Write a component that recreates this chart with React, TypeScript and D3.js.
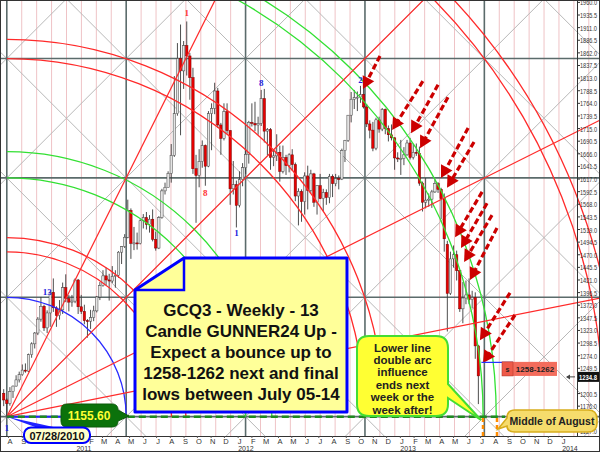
import React from "react";
import * as d3 from "d3";

// ---------- DATA ----------
const FIRST_CANDLE = "2010-07-21"; // weekly candles, one per week from here
const opens = [
  1201,1188,1181,1204,1215,1227,1237,1246,1244,1276,
  1297,1318,1345,1370,1328,1357,1397,1367,1352,1363,
  1406,1385,1378,1380,1421,1369,1360,1342,1341,1348,
  1361,1388,1410,1429,1421,1419,1428,1430,1475,1486,
  1504,1556,1492,1493,1492,1536,1542,1529,1539,1500,
  1483,1542,1594,1601,1628,1663,1744,1851,1827,1876,
  1856,1814,1637,1624,1651,1682,1642,1744,1754,1788,
  1722,1696,1748,1711,1598,1606,1566,1616,1639,1665,
  1727,1725,1722,1725,1773,1710,1713,1659,1662,1669,
  1632,1659,1643,1664,1645,1584,1593,1573,1623,1595,
  1627,1572,1604,1579,1591,1581,1622,1608,1618,1617,
  1672,1692,1741,1772,1775,1776,1781,1757,1724,1712,
  1677,1732,1714,1752,1715,1703,1697,1658,1656,1657,
  1664,1687,1659,1669,1667,1609,1572,1576,1578,1592,
  1608,1597,1579,1490,1395,1462,1470,1439,1365,1386,
  1392,1383,1387,1293,
];
const highs = [
  1209,1191,1213,1216,1236,1243,1257,1259,1278,1300,
  1320,1349,1388,1373,1362,1398,1424,1370,1382,1416,
  1432,1392,1392,1424,1423,1392,1373,1345,1363,1371,
  1390,1417,1440,1445,1433,1448,1440,1477,1487,1510,
  1577,1560,1524,1513,1539,1549,1553,1547,1558,1515,
  1545,1598,1610,1632,1685,1817,1881,1917,1885,1923,
  1862,1833,1664,1675,1692,1684,1749,1764,1804,1794,
  1726,1764,1764,1712,1652,1614,1632,1648,1675,1730,
  1764,1767,1738,1790,1792,1716,1716,1673,1704,1682,
  1682,1664,1667,1675,1649,1599,1597,1630,1643,1635,
  1629,1605,1627,1598,1597,1627,1626,1627,1624,1676,
  1693,1741,1786,1790,1787,1798,1795,1763,1731,1728,
  1736,1738,1755,1754,1721,1723,1698,1669,1693,1679,
  1693,1697,1685,1686,1680,1612,1619,1589,1596,1616,
  1611,1600,1589,1497,1476,1488,1478,1440,1417,1420,
  1424,1400,1397,1295,
];
const lows = [
  1176,1155.6,1177,1192,1214,1222,1235,1241,1242,1270,
  1288,1314,1340,1322,1318,1330,1359,1330,1344,1355,
  1378,1360,1369,1376,1355,1355,1335,1309,1326,1341,
  1358,1382,1408,1411,1381,1415,1406,1425,1452,1483,
  1502,1462,1479,1480,1490,1521,1519,1513,1496,1478,
  1481,1540,1587,1601,1610,1660,1740,1702,1792,1818,
  1771,1627,1532,1601,1639,1604,1640,1673,1743,1716,
  1664,1692,1705,1567,1587,1523,1562,1603,1627,1647,
  1719,1710,1703,1720,1688,1663,1635,1642,1652,1612,
  1628,1625,1630,1633,1574,1527,1534,1548,1558,1590,
  1563,1548,1578,1555,1567,1570,1582,1603,1597,1615,
  1650,1689,1727,1753,1749,1765,1754,1718,1696,1671,
  1673,1707,1710,1704,1690,1692,1635,1650,1625,1644,
  1662,1655,1655,1662,1604,1554,1560,1563,1561,1590,
  1590,1539,1476,1321,1392,1445,1420,1359,1337,1374,
  1374,1366,1268,1180,
];
const closes = [
  1188,1181,1204,1215,1227,1237,1246,1244,1276,1297,
  1318,1345,1370,1328,1357,1397,1367,1352,1363,1406,
  1385,1378,1380,1421,1369,1360,1342,1341,1348,1361,
  1388,1410,1429,1421,1419,1428,1430,1475,1486,1504,
  1556,1492,1493,1492,1536,1542,1529,1539,1500,1483,
  1542,1594,1601,1628,1663,1744,1851,1827,1876,1856,
  1814,1637,1624,1651,1682,1642,1744,1754,1788,1722,
  1696,1748,1711,1598,1606,1566,1616,1639,1665,1727,
  1725,1722,1725,1773,1710,1713,1659,1662,1669,1632,
  1659,1643,1664,1645,1584,1593,1573,1623,1595,1627,
  1572,1604,1579,1591,1581,1622,1608,1618,1617,1672,
  1692,1741,1772,1775,1776,1781,1757,1724,1712,1677,
  1732,1714,1752,1715,1703,1697,1658,1656,1657,1664,
  1687,1659,1669,1667,1609,1572,1576,1578,1592,1608,
  1597,1579,1501,1395,1462,1470,1439,1365,1386,1392,
  1383,1387,1293,1234.8,
];

const priceTicks = [
  1960.0,1935.5,1911.0,1886.5,1862.0,1837.5,1813.0,1788.5,1764.0,1739.5,
  1715.0,1690.5,1666.0,1641.5,1617.0,1592.5,1568.0,1543.5,1519.0,1494.5,
  1470.0,1445.5,1421.0,1396.5,1372.0,1347.5,1323.0,1298.5,1274.0,1249.5,
  1225.0,1200.5,1176.0,1151.5,1127.0,
];
const lastPrice = 1234.8;

// Gann square setup
const GANN_ORIGIN_DATE = "2010-07-28";
const GANN_ORIGIN_PRICE = 1155.6;
const GANN_SQUARE_PRICE = 231.8;
const GANN_SQUARE_DAYS = 269.4;
const arcSquares = [1, 1.38, 1.5, 2, 2.22, 3, 3.16, 3.99, 4.1, 5, 5.12];
const arcColors = ["#2a2aff","#ff2a2a","#ff2a2a","#33e033","#33e033","#ff2a2a","#ff2a2a","#33e033","#33e033","#ff2a2a","#ff2a2a"];
const fanRatios = [2, 1, 0.5, 0.2];

// candle markers
const markerIndex = [59, 65, 83, 75, 14, 115, 1];
const markerText = ["1", "8", "8", "1", "13", "2", "1"];
const markerColor = ["#ff3333", "#ff3333", "#2222dd", "#2222dd", "#2222dd", "#2222dd", "#2222dd"];
const markerPrice = [1939, 1590, 1803, 1512, 1398, 1809, 1134];

// red dashed arrows (weeks after Gann origin, price)
const arrowTailWeek = [120.3,134.1,139.0,142.2,148.7,150.6,153.2,154.8,156.4,158.0,162.2,163.8];
const arrowTailPrice = [1856,1807,1800,1776,1716,1689,1592,1570,1547,1522,1396,1353];
const arrowHeadWeek = [114.8,124.2,130.3,133.2,139.95,141.9,144.5,146.4,147.4,149.3,152.5,153.5];
const arrowHeadPrice = [1792,1712,1706,1677,1619,1600,1504,1483,1456,1421,1304,1260];

const targetLow = 1258;
const targetHigh = 1262;

const mainText = [
  "GCQ3 - Weekly - 13",
  "Candle GUNNER24 Up -",
  "Expect a bounce up to",
  "1258-1262 next and final",
  "lows between July 05-14",
];
const bubbleText = ["Lower line", "double arc", "influence", "ends next", "week or the", "week after!"];

const SANS = "'Liberation Sans', Arial, Helvetica, sans-serif";
const SERIF = "'Liberation Serif', 'DejaVu Serif', serif";

export default function App() {
  const W = 600, H = 452;
  const PB = 436; // plot bottom
  const parse = d3.timeParse("%Y-%m-%d");
  const origin = parse(GANN_ORIGIN_DATE) as Date;
  const x = d3.scaleTime()
    .domain([origin, d3.timeDay.offset(origin, 1000)])
    .range([6.8, 6.8 + 443.2]);
  const y = d3.scaleLinear().domain([1960, 1127]).range([2.4, 431.4]);
  const ox = x(origin);
  const oy = y(GANN_ORIGIN_PRICE);
  const sq = oy - y(GANN_ORIGIN_PRICE + GANN_SQUARE_PRICE);
  const sqX = x(d3.timeHour.offset(origin, GANN_SQUARE_DAYS * 24)) - ox;

  const first = parse(FIRST_CANDLE) as Date;
  const candleDates = opens.map((_, i) => d3.timeDay.offset(first, 7 * i));
  const weekDate = (w: number) => new Date(origin.getTime() + w * 7 * 864e5);

  // grid
  const pinkLines: number[] = [];
  for (let k = 1; ox + (k * sqX) / 8 < W; k++) if (k % 8 !== 0) pinkLines.push(ox + (k * sqX) / 8);
  const darkV: number[] = [];
  for (let k = 0; ox + k * sqX < W; k++) darkV.push(ox + k * sqX);
  const darkH: number[] = [];
  for (let k = 0; oy - k * sq > 0; k++) darkH.push(oy - k * sq);
  const diag: string[] = [];
  for (let k = -8; k < 12; k++) {
    const c = ox - oy + k * sq; // x - y = c
    diag.push(`M${c},0L${c + PB},${PB}`);
    const s = ox + oy + k * sq; // x + y = s
    diag.push(`M${s},0L${s - PB},${PB}`);
  }

  const months = d3.timeMonth
    .range(new Date(2010, 7, 1), new Date(2014, 0, 2))
    .filter((m) => x(m) < 24 || x(m) > 90); // labels hidden by the date callout are not drawn
  const years = d3.timeYear.range(new Date(2011, 0, 1), new Date(2014, 0, 2));
  const monthFmt = d3.timeFormat("%b");
  const lastY = y(lastPrice);
  const shownTicks = priceTicks.filter((p) => Math.abs(y(p) - (lastY + 1)) > 6);

  const arrows = arrowTailWeek.map((_, i) => {
    const tx = x(weekDate(arrowTailWeek[i])), ty = y(arrowTailPrice[i]);
    const hx = x(weekDate(arrowHeadWeek[i])), hy = y(arrowHeadPrice[i]);
    const len = Math.hypot(hx - tx, hy - ty);
    const ux = (hx - tx) / len, uy = (hy - ty) / len;
    const hl = 12, hw = 6.5;
    const bx = hx - ux * hl, by = hy - uy * hl;
    return {
      line: `M${tx},${ty}L${bx + ux},${by + uy}`,
      head: `M${hx},${hy}L${bx - uy * hw},${by + ux * hw}L${bx + uy * hw},${by - ux * hw}Z`,
    };
  });

  const lastX = x(candleDates[candleDates.length - 1]);

  return (
    <svg width={W} height={H} style={{ position: "fixed", left: 0, top: 0, background: "#fff" }}
      fontFamily={SANS}>
      <defs>
        <clipPath id="plot"><rect x={0} y={0} width={W} height={PB} /></clipPath>
        <clipPath id="quad"><rect x={ox} y={0} width={W - ox} height={PB} /></clipPath>
      </defs>
      <rect x={0} y={0} width={W} height={H} fill="#fff" />
      <g clipPath="url(#plot)">
        {pinkLines.map((px, i) => (
          <line key={"p" + i} x1={px} x2={px} y1={0} y2={PB} stroke="#efc3c6" strokeWidth={1} />
        ))}
        {diag.map((d, i) => <path key={"d" + i} d={d} stroke="#b8b8b8" strokeWidth={1} fill="none" />)}
        {darkV.map((px, i) => (
          <line key={"v" + i} x1={px} x2={px} y1={0} y2={PB} stroke="#5b6b6b" strokeWidth={1.6} />
        ))}
        {darkH.map((py, i) => (
          <line key={"h" + i} x1={0} x2={W} y1={py} y2={py} stroke="#5b6b6b" strokeWidth={1.6} />
        ))}
      </g>

      {/* candles */}
      <g>
        {opens.map((o, i) => {
          const cx = x(candleDates[i]);
          const c = closes[i];
          const up = c >= o;
          const top = y(Math.max(o, c));
          const h = Math.max(1, Math.abs(y(o) - y(c)));
          return (
            <g key={"c" + i}>
              <line x1={cx} x2={cx} y1={y(highs[i])} y2={y(lows[i])} stroke="#3a3a3a" strokeWidth={0.9} />
              <rect x={cx - 1.2} y={top} width={2.4} height={h}
                fill={up ? "#e4e4e4" : "#e80000"} stroke={up ? "#444" : "#7a0000"} strokeWidth={0.5} />
            </g>
          );
        })}
      </g>

      {/* Gann arcs and fan */}
      <g clipPath="url(#quad)" fill="none">
        {arcSquares.map((s, i) => {
          const r = s * sq;
          return (
            <path key={"a" + i} d={`M${ox},${oy - r}A${r},${r} 0 0 1 ${ox + r},${oy}`}
              stroke={arcColors[i]} strokeWidth={1.3} />
          );
        })}
        {fanRatios.map((r, i) => (
          <path key={"f" + i} d={`M${ox},${oy}L${ox + 900},${oy - 900 * r}`} stroke="#ff2a2a" strokeWidth={1.2} />
        ))}
      </g>

      {/* candle markers */}
      {markerIndex.map((idx, i) => (
        <text key={"m" + i} x={x(candleDates[idx])} y={y(markerPrice[i]) + 3} textAnchor="middle"
          fontFamily={SERIF} fontSize={9} fontWeight="bold" fill={markerColor[i]}>{markerText[i]}</text>
      ))}

      {/* right axis */}
      <line x1={577.5} x2={577.5} y1={0} y2={PB} stroke="#333" strokeWidth={1} />
      {priceTicks.map((p, i) => (
        <line key={"tk" + i} x1={577} x2={580} y1={y(p)} y2={y(p)} stroke="#333" />
      ))}
      {shownTicks.map((p, i) => (
        <text key={"t" + i} x={580} y={y(p) + 3} fontSize={7.8} fill="#333"
          textLength={17} lengthAdjust="spacingAndGlyphs">{p.toFixed(1)}</text>
      ))}

      {/* x axis */}
      <line x1={0} x2={W} y1={PB + 0.5} y2={PB + 0.5} stroke="#333" />
      {months.map((m, i) => (
        <g key={"mo" + i}>
          <line x1={x(m)} x2={x(m)} y1={PB} y2={PB + 2} stroke="#555" />
          <text x={x(m) + 1.5} y={443.5} textAnchor="middle" fontSize={7.5} fill="#333">{monthFmt(m)[0]}</text>
        </g>
      ))}
      {years.map((yr, i) => (
        <text key={"yr" + i} x={x(yr)} y={451} fontSize={7} fill="#333">{d3.timeFormat("%Y")(yr)}</text>
      ))}

      {/* 1155.60 baseline */}
      <line x1={ox} x2={ox + sq} y1={oy} y2={oy} stroke="#2222ff" strokeWidth={2} />
      <line x1={ox} x2={505} y1={oy} y2={oy} stroke="#1f8a1f" strokeWidth={2.5} strokeDasharray="7 4" />
      {/* orange dashes */}
      <line x1={483} x2={483} y1={418} y2={PB} stroke="#ff8c00" strokeWidth={2.5} strokeDasharray="4 3" />
      <line x1={497} x2={497} y1={418} y2={PB} stroke="#ff8c00" strokeWidth={2.5} strokeDasharray="4 3" />

      {/* arrows */}
      {arrows.map((a, i) => (
        <g key={"ar" + i}>
          <path d={a.line} stroke="#cc0000" strokeWidth={3.2} strokeDasharray="6 3" fill="none" />
          <path d={a.head} fill="#cc0000" />
        </g>
      ))}

      {/* main yellow box */}
      <path d="M135,290 L184,258 L347,258 L347,412 L135,412 Z" fill="#ffff99" stroke="#0000ff" strokeWidth={3} strokeLinejoin="round" />
      <path d="M184,258 L184,290 L135,290" fill="none" stroke="#0000ff" strokeWidth={2.5} />
      {mainText.map((t, i) => (
        <text key={"mt" + i} x={241} y={316 + i * 21} textAnchor="middle" fontSize={17} fontWeight="bold" fill="#111">{t}</text>
      ))}

      {/* green 1155.60 label */}
      <path d="M67,404 H112 Q118,404 118,410 L129,416 L118,421 Q118,427 112,427 H67 Q61,427 61,421 V410 Q61,404 67,404 Z" fill="#0b720b" stroke="#0a5a0a" strokeWidth={1} />
      <text x={89} y={420} textAnchor="middle" fontSize={12} fontWeight="bold" fill="#ffff33">1155.60</text>

      {/* 07/28/2010 label */}
      <path d={`M${ox},${oy} L38,428 L58,428 Z`} fill="#2222ff" />
      <rect x={24} y={427.5} width={66} height={15.5} rx={7} fill="#ffffcc" stroke="#0000ff" strokeWidth={2} />
      <text x={57} y={439.5} textAnchor="middle" fontSize={11} fontWeight="bold" fill="#111">07/28/2010</text>

      {/* bubble */}
      <path d="M369,336 H436 Q448,336 448,348 V384 L481,420 L448,398 V404 Q448,416 436,416 H369 Q357,416 357,404 V348 Q357,336 369,336 Z"
        fill="#ffff33" stroke="#44dd33" strokeWidth={2} />
      {bubbleText.map((t, i) => (
        <text key={"bt" + i} x={402.5} y={351.5 + i * 12.4} textAnchor="middle" fontSize={11.5} fontWeight="bold" fill="#222">{t}</text>
      ))}

      {/* Middle of August */}
      <path d="M515,410 H588 Q597,410 597,419 V423 Q597,432 588,432 H515 Q507,432 507,426 L498,429 L507,418 Q507,410 515,410 Z"
        fill="#f6dc6c" stroke="#d8ad1c" strokeWidth={1.6} />
      <text x={552} y={424.5} textAnchor="middle" fontSize={10.5} fontWeight="bold" fill="#222">Middle of August</text>

      {/* target label */}
      <line x1={lastX + 3} x2={513} y1={y(targetHigh) + 0.5} y2={y(targetHigh) + 0.5} stroke="#2233ff" strokeWidth={1.2} />
      <rect x={502} y={y(targetHigh)} width={55} height={y(targetLow) - y(targetHigh) + 12} fill="#f36c5c" />
      <rect x={502} y={y(targetHigh)} width={11} height={y(targetLow) - y(targetHigh) + 12} fill="#ee5a49" stroke="#b43c2e" strokeWidth={0.6} />
      <text x={507.5} y={y(targetHigh) + 10} textAnchor="middle" fontSize={7} fontWeight="bold" fill="#222">s</text>
      <text x={535} y={y(targetHigh) + 10} textAnchor="middle" fontSize={8} fontWeight="bold" fill="#222">{`${targetLow}-${targetHigh}`}</text>

      {/* last price label */}
      <line x1={567} x2={575} y1={lastY + 1} y2={lastY + 1} stroke="#444" strokeWidth={1} />
      <path d={`M566,${lastY + 1} L570,${lastY - 1.5} L570,${lastY + 3.5} Z`} fill="#444" />
      <rect x={578} y={lastY - 4} width={21} height={10} fill="#111" />
      <text x={579} y={lastY + 4} fontSize={8} fontWeight="bold" fill="#fff"
        textLength={18} lengthAdjust="spacingAndGlyphs">{lastPrice.toFixed(1)}</text>

      <rect x={0.5} y={0.5} width={W - 1} height={H - 1} fill="none" stroke="#333" strokeWidth={1} />
    </svg>
  );
}
